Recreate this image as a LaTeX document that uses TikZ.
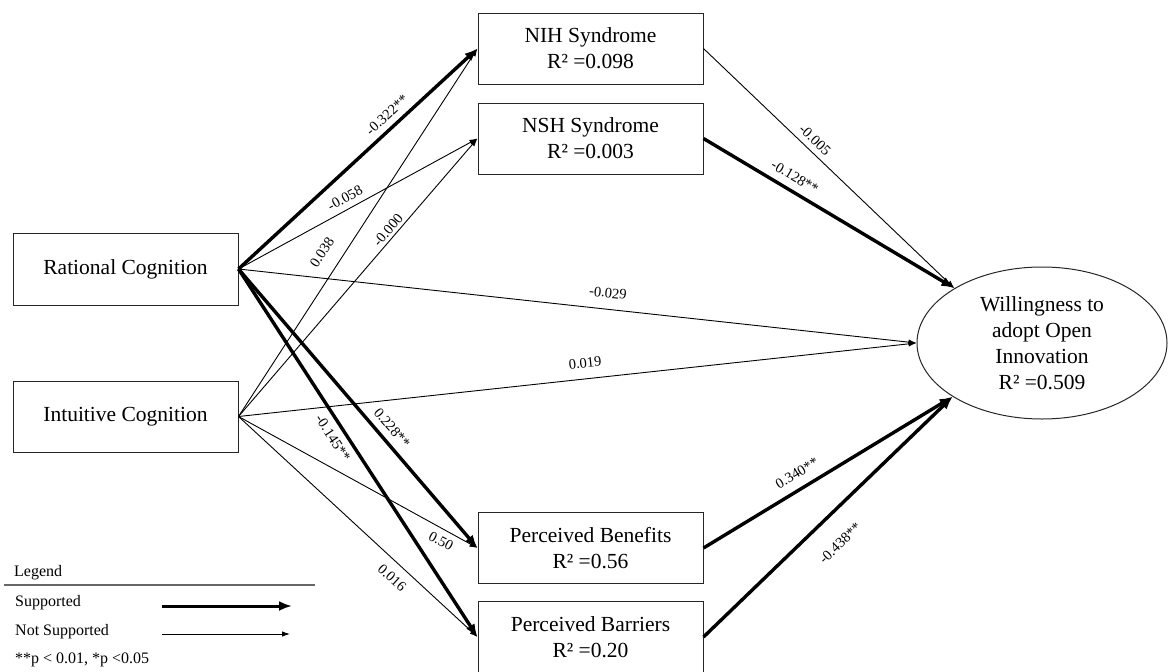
\documentclass[tikz,border=0pt]{standalone}
\usepackage{fontspec}
\setmainfont{Liberation Serif}
\usetikzlibrary{arrows.meta,shapes.geometric}
\begin{document}
\begin{tikzpicture}[x=1pt,y=-1pt,
  box/.style={draw=black!85, line width=1pt, minimum width=225pt, minimum height=71pt,
    inner sep=0pt, align=center, font=\fontsize{21.5pt}{26pt}\selectfont},
  supp/.style={-{Latex[length=13pt,width=10pt]}, line width=3.4pt},
  nsupp/.style={-{Latex[length=8pt,width=5.5pt]}, line width=0.9pt},
  lbl/.style={font=\fontsize{14.5pt}{16pt}\selectfont, inner sep=0pt},
  leg/.style={font=\fontsize{16pt}{18pt}\selectfont, inner sep=0pt, anchor=west}]
\useasboundingbox (0,0) rectangle (1168,672);
% nodes
\node[box, minimum height=72pt] (RC) at (125.5,269) {Rational Cognition};
\node[box] (IC) at (125.5,416.5) {Intuitive Cognition};
\node[box] (NIH) at (590.5,48.5) {NIH Syndrome\\R² =0.098};
\node[box] (NSH) at (590.5,138.5) {NSH Syndrome\\R² =0.003};
\node[box] (PB) at (590.5,548) {Perceived Benefits\\R² =0.56};
\node[box] (PBar) at (590.5,637) {Perceived Barriers\\R² =0.20};
\node[draw=black!85, line width=1pt, ellipse, minimum width=250pt, minimum height=152pt,
  inner sep=0pt, align=center, font=\fontsize{21.5pt}{26pt}\selectfont] (WOI) at (1042,343)
  {Willingness to\\adopt Open\\Innovation\\R² =0.509};
% connectors
\draw[supp] (RC.east) -- (NIH.west);
\draw[nsupp] (RC.east) -- (NSH.west);
\draw[nsupp] (RC.east) -- (WOI.west);
\draw[supp] (RC.east) -- (PB.west);
\draw[supp] (RC.east) -- (PBar.west);
\draw[nsupp] (IC.east) -- (NIH.west);
\draw[nsupp] (IC.east) -- (NSH.west);
\draw[nsupp] (IC.east) -- (WOI.west);
\draw[nsupp] (IC.east) -- (PB.west);
\draw[nsupp] (IC.east) -- (PBar.west);
\draw[nsupp] (NIH.east) -- (WOI.148);
\draw[supp] (NSH.east) -- (WOI.148);
\draw[supp] (PB.east) -- (WOI.211);
\draw[supp] (PBar.east) -- (WOI.211);
% labels
\node[lbl, rotate=42.5] (l1) at (387,115) {-0.322**};
\node[lbl, rotate=28.4] (l2) at (345,198) {-0.058};
\node[lbl, rotate=56.8] (l3) at (322,252) {0.038};
\node[lbl, rotate=49.1] (l4) at (388,230) {-0.000};
\node[lbl, rotate=-6.1] (l5) at (608,293) {-0.029};
\node[lbl, rotate=6.2] (l6) at (585,363) {0.019};
\node[lbl, rotate=-49.1] (l7) at (392,428) {0.228**};
\node[lbl, rotate=-56.7] (l8) at (333,438) {-0.145**};
\node[lbl, rotate=-28.4] (l9) at (441,541) {0.50};
\node[lbl, rotate=-42.2] (l10) at (392,578) {0.016};
\node[lbl, rotate=-43.6] (l11) at (815,140) {-0.005};
\node[lbl, rotate=-30.6] (l12) at (795,177) {-0.128**};
\node[lbl, rotate=31] (l13) at (797,473) {0.340**};
\node[lbl, rotate=43.8] (l14) at (840,543) {-0.438**};
% legend
\node[leg] (LG) at (14,573) {Legend};
\coordinate (LA) at (4,585);
\coordinate (LB) at (315,585);
\draw[black!60, line width=1.6pt] (LA) -- (LB);
\node[leg] (LS) at (15,603) {Supported};
\node[leg] (LN) at (15,632) {Not Supported};
\node[leg] (LP) at (15,660) {**p < 0.01, *p <0.05};
\coordinate (SA) at (162,606);
\coordinate (SB) at (292,606);
\coordinate (NA) at (162,634);
\coordinate (NB) at (290,634);
\draw[supp, line width=3pt] (SA) -- (SB);
\draw[nsupp] (NA) -- (NB);
\end{tikzpicture}
\end{document}
